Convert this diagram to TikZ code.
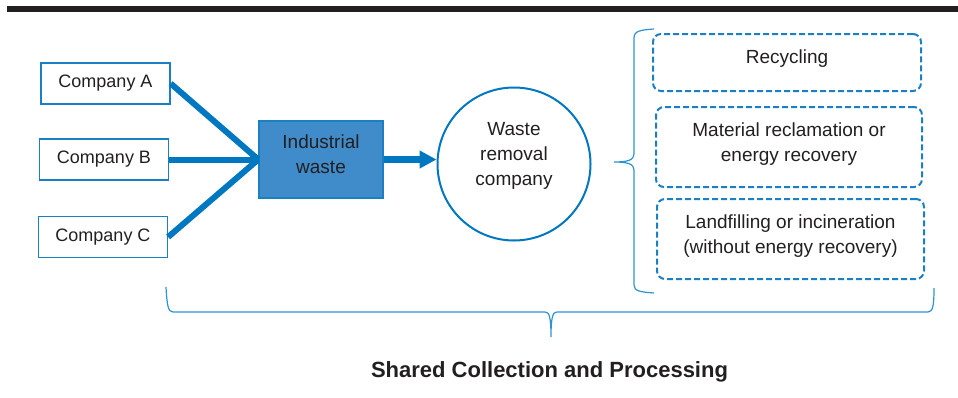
\documentclass[tikz,border=0pt]{standalone}
\usepackage{fontspec}
\setmainfont{Liberation Sans}
\usetikzlibrary{arrows.meta}
\definecolor{flow}{RGB}{0,120,193}
\definecolor{wastefill}{RGB}{64,139,201}
\definecolor{edgeblue}{RGB}{26,128,196}
\definecolor{bracec}{RGB}{45,148,212}
\definecolor{ink}{RGB}{35,31,32}
\begin{document}
\begin{tikzpicture}[x=1pt,y=-1pt,
  every node/.style={text=ink},
  company/.style={draw=edgeblue, line width=1.3pt, minimum width=129pt,
    minimum height=41pt, inner sep=0pt, font=\fontsize{18}{22}\selectfont},
  wastebox/.style={draw=edgeblue, fill=wastefill, line width=1.5pt,
    minimum width=124pt, minimum height=77pt, inner sep=0pt},
  removal/.style={circle, draw=flow, line width=2pt, minimum size=153pt, inner sep=0pt},
  option/.style={draw=edgeblue, line width=2pt, rounded corners=8pt,
    dash pattern=on 6pt off 3pt, inner sep=0pt},
  label/.style={align=center, inner sep=0pt, font=\fontsize{19}{25}\selectfont},
  feed/.style={draw=flow, line width=6pt},
  bracket/.style={draw=bracec, line width=1.2pt},
]
\useasboundingbox (0,0) rectangle (958,397);

% heading rule
\fill[ink] (7,6) rectangle (958,12);

% contributing companies
\node[company] (ca) at (105.5,83.5) {Company A};
\node[company] (cb) at (104,159.5) {Company B};
\node[company] (cc) at (103,237) {Company C};

% pooled waste and the collector
\node[wastebox] (iw) at (321,159.5) {};
\node[label] (iwt) at (321,154.5) {Industrial\\waste};
\node[removal] (wr) at (514,164) {};
\node[label] (wrt) at (514,155.5) {Waste\\removal\\company};

% flows
\draw[feed] (ca.east) -- (iw.west);
\draw[feed] (cb.east) -- (iw.west);
\draw[feed] (cc.east) -- (iw.west);
\draw[feed, line width=6.5pt, -{Triangle[length=17pt,width=17pt]}] (iw.east) -- (iw.east -| wr.west);

% processing routes
\node[option, minimum width=268pt, minimum height=57pt] (rc) at (787,62.5) {};
\node[label] (rct) at (787,58.5) {Recycling};
\node[option, minimum width=266pt, minimum height=80pt] (mr) at (789,147) {};
\node[label] (mrt) at (789,144) {Material reclamation or\\energy recovery};
\node[option, minimum width=267pt, minimum height=80pt] (lf) at (790.5,239) {};
\node[label] (lft) at (790.5,236.5) {Landfilling or incineration\\(without energy recovery)};

% brace grouping the routes
\draw[bracket] (654,29) .. controls (640,30) and (634,31) .. (634,38)
  -- (634,154) .. controls (634,160) and (628,162) .. (614,162)
  .. controls (628,162) and (634,164) .. (634,170)
  -- (634,285) .. controls (634,291) and (640,292) .. (654,293);

% brace under the whole scheme
\draw[bracket] (166,287) .. controls (167,305) and (168,312) .. (173,312)
  -- (545,312) .. controls (549,312) and (551,316) .. (551,337)
  .. controls (551,316) and (553,312) .. (557,312)
  -- (928,312) .. controls (933,312) and (934,305) .. (934,288);

\node[font=\bfseries\fontsize{22}{26}\selectfont, inner sep=0pt] (title) at (549.5,371.5)
  {Shared Collection and Processing};
\end{tikzpicture}
\end{document}
